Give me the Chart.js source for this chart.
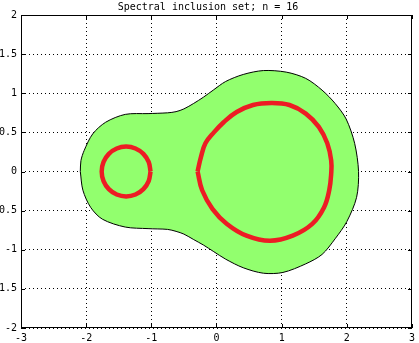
<!DOCTYPE html>
<html>
<head>
<meta charset="utf-8">
<script src="https://cdn.jsdelivr.net/npm/chart.js@4/dist/chart.umd.min.js"></script>
<style>
  html, body { margin: 0; padding: 0; background: #fff; }
  #wrap { width: 419px; height: 343px; position: relative; }
</style>
</head>
<body>
<div id="wrap"><canvas id="chart"></canvas></div>
<script>
// tick values
const xTicks = [-3, -2, -1, 0, 1, 2, 3];
const yTicks = [-2, -1.5, -1, -0.5, 0, 0.5, 1, 1.5, 2];

// green inclusion region (boundary)
const regionX = [-2.09, -2.08, -2.03, -1.90, -1.70, -1.40, -1.05, -0.75, -0.62, -0.50, -0.35, -0.20, -0.05, 0.14, 0.41, 0.72, 1.07, 1.37, 1.62, 1.82, 1.99, 2.12, 2.18,
                 2.15, 2.00, 1.82, 1.62, 1.37, 1.02, 0.72, 0.41, 0.14, -0.05, -0.20, -0.35, -0.50, -0.62, -0.75, -1.05, -1.40, -1.75, -1.93, -2.05, -2.09];
const regionY = [0, 0.14, 0.27, 0.48, 0.63, 0.73, 0.74, 0.75, 0.765, 0.80, 0.87, 0.95, 1.04, 1.15, 1.24, 1.29, 1.27, 1.19, 1.04, 0.87, 0.67, 0.36, 0,
                 -0.33, -0.64, -0.86, -1.06, -1.18, -1.29, -1.30, -1.23, -1.12, -1.02, -0.94, -0.87, -0.80, -0.765, -0.74, -0.73, -0.71, -0.61, -0.46, -0.24, 0];

// small red curve (left)
const smallX = [-1.012, -1.041, -1.122, -1.243, -1.387, -1.531, -1.652, -1.733, -1.762, -1.733, -1.652, -1.531, -1.387, -1.243, -1.122, -1.041, -1.012];
const smallY = [0, 0.122, 0.225, 0.294, 0.318, 0.294, 0.225, 0.122, 0, -0.122, -0.225, -0.294, -0.318, -0.294, -0.225, -0.122, 0];

// big red curve (right)
const bigX = [-0.29, -0.24, -0.17, -0.04, 0.11, 0.31, 0.56, 0.84, 1.12, 1.37, 1.57, 1.70, 1.76, 1.76,
              1.73, 1.65, 1.47, 1.17, 0.82, 0.46, 0.16, -0.06, -0.22, -0.29];
const bigY = [0, 0.18, 0.36, 0.50, 0.63, 0.76, 0.85, 0.876, 0.85, 0.74, 0.57, 0.36, 0.14, -0.03,
              -0.24, -0.46, -0.67, -0.82, -0.885, -0.82, -0.67, -0.48, -0.24, 0];

const toPoints = (xs, ys) => xs.map((x, i) => ({ x: x, y: ys[i] }));

const FONT = { family: 'DejaVu Sans Mono', size: 10 };

// matlab style box + inward tick marks
const boxPlugin = {
  id: 'box',
  afterDraw(chart) {
    const { ctx, chartArea: a, scales } = chart;
    ctx.save();
    ctx.strokeStyle = '#000';
    ctx.lineWidth = 1;
    ctx.setLineDash([]);
    ctx.beginPath();
    ctx.rect(Math.round(a.left) + 0.5, Math.round(a.top) + 0.5,
             Math.round(a.right - a.left) - 1, Math.round(a.bottom - a.top) - 1);
    const len = 4;
    xTicks.forEach(v => {
      const px = Math.round(scales.x.getPixelForValue(v)) + 0.5;
      ctx.moveTo(px, a.bottom); ctx.lineTo(px, a.bottom - len);
      ctx.moveTo(px, a.top); ctx.lineTo(px, a.top + len);
    });
    yTicks.forEach(v => {
      const py = Math.round(scales.y.getPixelForValue(v)) + 0.5;
      ctx.moveTo(a.left, py); ctx.lineTo(a.left + len, py);
      ctx.moveTo(a.right, py); ctx.lineTo(a.right - len, py);
    });
    ctx.stroke();
    ctx.restore();
  }
};

new Chart(document.getElementById('chart'), {
  type: 'scatter',
  data: {
    datasets: [
      {
        data: toPoints(regionX, regionY),
        order: 2,
        showLine: true,
        fill: 'shape',
        backgroundColor: '#92FF6E',
        borderColor: '#000',
        borderWidth: 1,
        pointRadius: 0,
        tension: 0.3
      },
      {
        data: toPoints(smallX, smallY),
        order: 1,
        showLine: true,
        fill: false,
        borderColor: '#ED1C24',
        borderWidth: 4.5,
        pointRadius: 0,
        tension: 0.4
      },
      {
        data: toPoints(bigX, bigY),
        order: 1,
        showLine: true,
        fill: false,
        borderColor: '#ED1C24',
        borderWidth: 4.5,
        pointRadius: 0,
        tension: 0.4
      }
    ]
  },
  options: {
    responsive: true,
    maintainAspectRatio: false,
    animation: false,
    layout: { padding: { right: 3 } },
    plugins: {
      legend: { display: false },
      tooltip: { enabled: false },
      title: {
        display: true,
        text: 'Spectral inclusion set; n = 16',
        color: '#000',
        font: { family: FONT.family, size: 10, weight: 'normal' },
        padding: { top: 1, bottom: 2 }
      }
    },
    scales: {
      x: {
        type: 'linear',
        min: -3, max: 3,
        afterBuildTicks: s => { s.ticks = xTicks.map(v => ({ value: v })); },
        afterFit: s => { s.height = 15; },
        grid: { color: '#000', lineWidth: 1, drawTicks: false },
        border: { display: false, dash: [1, 3] },
        ticks: { color: '#000', font: FONT, padding: 4, maxRotation: 0, autoSkip: false,
                 callback: v => String(v) }
      },
      y: {
        type: 'linear',
        min: -2, max: 2,
        afterBuildTicks: s => { s.ticks = yTicks.map(v => ({ value: v })); },
        afterFit: s => { s.width = 21; },
        grid: { color: '#000', lineWidth: 1, drawTicks: false },
        border: { display: false, dash: [1, 3] },
        ticks: { color: '#000', font: FONT, padding: 4, autoSkip: false,
                 callback: v => String(v) }
      }
    }
  },
  plugins: [boxPlugin]
});
</script>
</body>
</html>
